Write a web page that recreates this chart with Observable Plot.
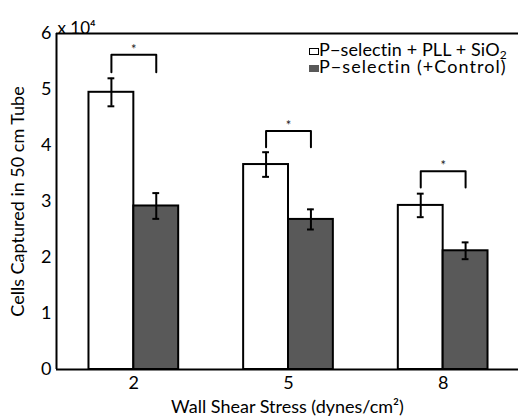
<!DOCTYPE html>
<html>
<head>
<meta charset="utf-8">
<script src="https://cdn.jsdelivr.net/npm/d3@7"></script>
<script src="https://cdn.jsdelivr.net/npm/@observablehq/plot@0.6"></script>
<style>
  html, body { margin: 0; padding: 0; background: white; }
  #wrap { position: relative; width: 518px; height: 416px; font-family: Lato, "Open Sans", sans-serif; }
  #legend { position: absolute; left: 309px; top: 41px; font-size: 18px; color: #000; }
  #legend .row { height: 16.7px; line-height: 16.7px; white-space: nowrap; overflow: visible; }
  #legend .sw { display: inline-block; width: 10px; height: 7px; box-sizing: border-box; vertical-align: 1px; margin-right: 0; }
  #legend .txt { display: inline-block; height: 16.7px; line-height: 16.7px; overflow: visible; vertical-align: top; }
  #legend sub { display: inline-block; font-size: 12px; height: 9px; line-height: 9px; vertical-align: -3px; letter-spacing: 0; overflow: visible; }
</style>
</head>
<body>
<div id="wrap"><div id="legend"></div></div>
<script>
const groups = ["2", "5", "8"];
const seriesNames = ["P\u2212selectin + PLL + SiO", "P\u2212selectin (+Control)"];
const seriesColors = ["white", "#595959"];
const coatedMean = [4.95, 3.66, 2.93];
const coatedErr = [0.25, 0.22, 0.21];
const controlMean = [2.92, 2.68, 2.12];
const controlErr = [0.23, 0.18, 0.15];
const bracketTop = [5.62, 4.26, 3.54];
const bracketLeg = [5.31, 3.97, 3.25];
const yTicks = [0, 1, 2, 3, 4, 5, 6];

const bw = 0.29;
const rows = groups.flatMap((g, i) => [
  {g, i: i + 1, s: 0, mean: coatedMean[i], err: coatedErr[i]},
  {g, i: i + 1, s: 1, mean: controlMean[i], err: controlErr[i]}
]);
const cx = d => d.i + (d.s ? bw / 2 : -bw / 2);
const bracketPts = groups.flatMap((g, i) => [
  {g, x: i + 1 - bw / 2, y: bracketLeg[i]},
  {g, x: i + 1 - bw / 2, y: bracketTop[i]},
  {g, x: i + 1 + bw / 2, y: bracketTop[i]},
  {g, x: i + 1 + bw / 2, y: bracketLeg[i]}
]);

const chart = Plot.plot({
  width: 518,
  height: 416,
  marginLeft: 56,
  marginTop: 33,
  marginBottom: 47,
  marginRight: 0,
  style: {fontFamily: "Lato, 'Open Sans', sans-serif", color: "black", background: "white"},
  x: {type: "linear", domain: [0.5, 3.5], range: [56, 520]},
  y: {domain: [0, 6], range: [369, 33]},
  marks: [
    Plot.rectY(rows, {
      x1: d => d.i + (d.s ? 0 : -bw),
      x2: d => d.i + (d.s ? bw : 0),
      y1: 0, y2: "mean",
      fill: d => seriesColors[d.s], stroke: "black", strokeWidth: 2
    }),
    Plot.ruleX(rows, {x: cx, y1: d => d.mean - d.err, y2: d => d.mean + d.err, stroke: "black", strokeWidth: 2}),
    Plot.ruleY(rows, {y: d => d.mean + d.err, x1: d => cx(d) - 0.022, x2: d => cx(d) + 0.022, stroke: "black", strokeWidth: 2}),
    Plot.ruleY(rows, {y: d => d.mean - d.err, x1: d => cx(d) - 0.022, x2: d => cx(d) + 0.022, stroke: "black", strokeWidth: 2}),
    Plot.line(bracketPts, {x: "x", y: "y", z: "g", stroke: "black", strokeWidth: 2}),
    Plot.text(groups, {x: (g, i) => i + 1, y: (g, i) => bracketTop[i], text: () => "*", dy: -5, fontSize: 13, fill: "#222"}),
    Plot.ruleY([0, 6], {stroke: "black", strokeWidth: 2}),
    Plot.ruleX([0.5, 3.5], {stroke: "black", strokeWidth: 2}),
    Plot.axisY({ticks: yTicks, tickFormat: d => String(d), tickSize: 0, tickPadding: 5, fontSize: 18,
      label: "Cells Captured in 50 cm Tube", labelAnchor: "center", labelArrow: "none", labelOffset: 45}),
    Plot.axisX({ticks: [1, 2, 3], tickFormat: v => groups[v - 1], tickSize: 0, tickPadding: 7, fontSize: 18,
      label: "Wall Shear Stress (dynes/cm\u00b2)", labelAnchor: "center", labelArrow: "none", labelOffset: 43}),
    Plot.text(["x 10\u2074"], {frameAnchor: "top-left", text: d => d, textAnchor: "start", lineAnchor: "bottom", dx: 1, dy: 0, fontSize: 17})
  ]
});
const wrap = document.getElementById("wrap");
wrap.insertBefore(chart, wrap.firstChild);

const legend = document.getElementById("legend");
const targetTextWidth = 188; // legend text span after the swatch, in px
seriesNames.forEach((name, k) => {
  const row = document.createElement("div");
  row.className = "row";
  const sw = document.createElement("span");
  sw.className = "sw";
  sw.style.background = seriesColors[k];
  sw.style.border = "1px solid " + (k ? "#595959" : "black");
  const txt = document.createElement("span");
  txt.className = "txt";
  txt.textContent = name;
  if (k === 0) { const s = document.createElement("sub"); s.textContent = "2"; txt.appendChild(s); }
  row.appendChild(sw);
  row.appendChild(txt);
  legend.appendChild(row);
  const w = txt.getBoundingClientRect().width;
  const ls = Math.max(-1, Math.min(1.5, (targetTextWidth - w) / name.length));
  txt.style.letterSpacing = ls.toFixed(2) + "px";
});
</script>
</body>
</html>
